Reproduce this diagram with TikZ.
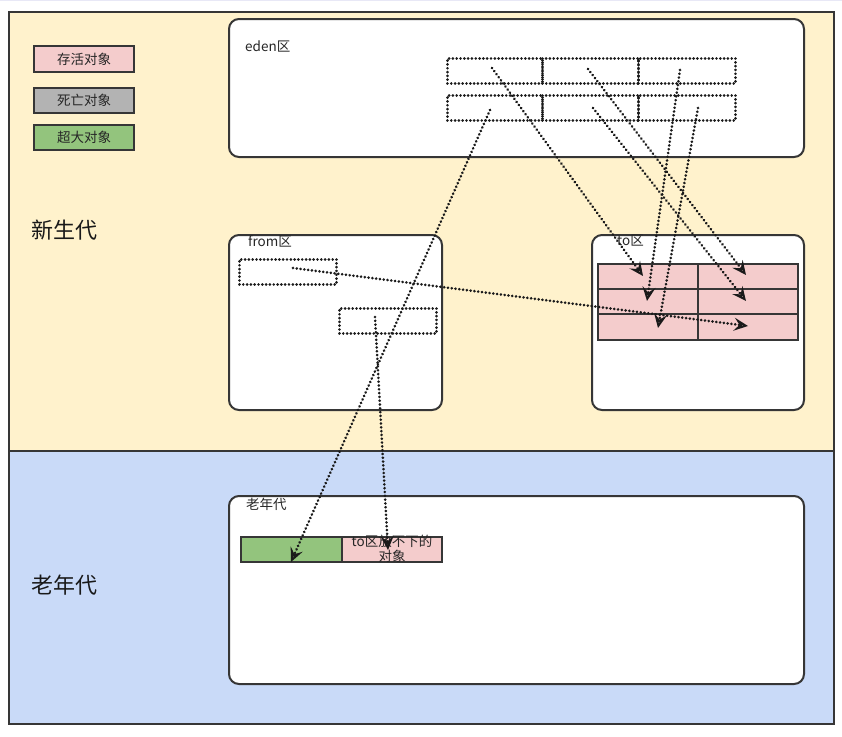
\documentclass[tikz,border=0pt]{standalone}
\usepackage{fontspec}
\setmainfont{Noto Sans CJK SC}
\usetikzlibrary{arrows.meta}
\definecolor{ylw}{HTML}{FFF2CC}
\definecolor{blu}{HTML}{C9DAF8}
\definecolor{pnk}{HTML}{F4CCCC}
\definecolor{gry}{HTML}{B3B3B3}
\definecolor{grn}{HTML}{93C47D}
\definecolor{edge}{HTML}{363636}
\definecolor{dotc}{HTML}{1A1A1A}
\definecolor{gridc}{HTML}{E8E8F6}
\tikzset{
  area/.style={draw=edge, line width=2pt, anchor=north west, inner sep=0pt},
  region/.style={draw=edge, fill=white, line width=2pt, rounded corners=10pt, anchor=north west, inner sep=0pt},
  cell/.style={draw=edge, line width=2pt, anchor=north west, inner sep=0pt, minimum width=100pt, minimum height=25pt},
  dotcell/.style={draw=dotc, line width=2.9pt, line cap=round, dash pattern=on 0.01pt off 3.8pt, anchor=north west, inner sep=0pt},
  flow/.style={draw=dotc, line width=2.9pt, line cap=round, dash pattern=on 0.01pt off 3.8pt, -{Stealth[open, length=14pt, width=13pt, inset=5.5pt, line width=2pt, line cap=butt]}},
  lgfont/.style={font=\fontsize{13.5pt}{15pt}\selectfont, text=black!85},
  lbl/.style={anchor=west, inner sep=0pt, lgfont},
  big/.style={anchor=west, inner sep=0pt, font=\fontsize{22pt}{24pt}\selectfont, text=black!90},
}
\begin{document}
\begin{tikzpicture}[x=1pt,y=-1pt]
\useasboundingbox (0,0) rectangle (842,736);
\fill[white] (0,0) rectangle (842,736);
\draw[gridc, line width=0.6pt, step=12.3pt] (0,0) grid (842,-736);
% generations
\node[area, fill=ylw, minimum width=825pt, minimum height=439pt] (young) at (8,11) {};
\node[area, fill=blu, minimum width=825pt, minimum height=273pt] (old) at (8,450) {};
\node[big] (youngl) at (31,230) {新生代};
\node[big] (oldl) at (31,585) {老年代};
% legend
\node[cell, fill=pnk, minimum height=26pt, lgfont] (lg1) at (33,45) {存活对象};
\node[cell, fill=gry, minimum height=25pt, lgfont] (lg2) at (33,87) {死亡对象};
\node[cell, fill=grn, minimum height=25pt, lgfont] (lg3) at (33,124) {超大对象};
% regions
\node[region, minimum width=575pt, minimum height=138pt] (eden) at (228,18) {};
\node[lbl] (edenl) at (245,46) {eden区};
\node[region, minimum width=213pt, minimum height=175pt] (from) at (228,234) {};
\node[lbl] (froml) at (248,241) {from区};
\node[region, minimum width=212pt, minimum height=175pt] (to) at (591,234) {};
\node[lbl] (tol) at (617,241) {to区};
\node[region, minimum width=575pt, minimum height=188pt] (tenured) at (228,495) {};
\node[lbl] (tenuredl) at (246,504) {老年代};
% eden cells
\foreach \r/\y in {1/57,2/94}{
  \node[dotcell, minimum width=95pt, minimum height=25pt] (e\r1) at (446,\y) {};
  \node[dotcell, minimum width=96pt, minimum height=25pt] (e\r2) at (541,\y) {};
  \node[dotcell, minimum width=97pt, minimum height=25pt] (e\r3) at (637,\y) {};
}
% from cells
\node[dotcell, minimum width=97pt, minimum height=25pt] (f1) at (238,258) {};
\node[dotcell, minimum width=97pt, minimum height=25pt] (f2) at (338,307) {};
% to cells
\foreach \r/\y in {1/263,2/288,3/313}{
  \node[cell, fill=pnk, minimum height=25.5pt] (t\r1) at (597,\y) {};
  \node[cell, fill=pnk, minimum height=25.5pt] (t\r2) at (697,\y) {};
}
% tenured cells
\node[cell, fill=grn, minimum width=101pt] (o1) at (240,536) {};
\node[cell, fill=pnk, minimum height=25pt] (o2) at (341,536) {};
\node[align=center, inner sep=0pt, font=\fontsize{13.5pt}{15pt}\selectfont, text=black!85] (o2t) at ([yshift=1pt]o2.center) {to区放不下的\\对象};
% arrow ends
\coordinate (s1) at (492,68);
\coordinate (s2) at (588,69);
\coordinate (s3) at (680,70);
\coordinate (s4) at (490,110);
\coordinate (s5) at (593,108);
\coordinate (s6) at (698,108);
\coordinate (s7) at (293,268);
\coordinate (s8) at (375,317);
\coordinate (d1) at (643,276);
\coordinate (d2) at (746,275);
\coordinate (d3) at (647,301);
\coordinate (d4) at (291,562);
\coordinate (d5) at (746,301);
\coordinate (d6) at (658,328);
\coordinate (d7) at (748,326);
\coordinate (d8) at (388,550);
\draw[flow] (s1) -- (d1);
\draw[flow] (s2) -- (d2);
\draw[flow] (s3) -- (d3);
\draw[flow] (s4) -- (d4);
\draw[flow] (s5) -- (d5);
\draw[flow] (s6) -- (d6);
\draw[flow] (s7) -- (d7);
\draw[flow] (s8) -- (d8);
\end{tikzpicture}
\end{document}
